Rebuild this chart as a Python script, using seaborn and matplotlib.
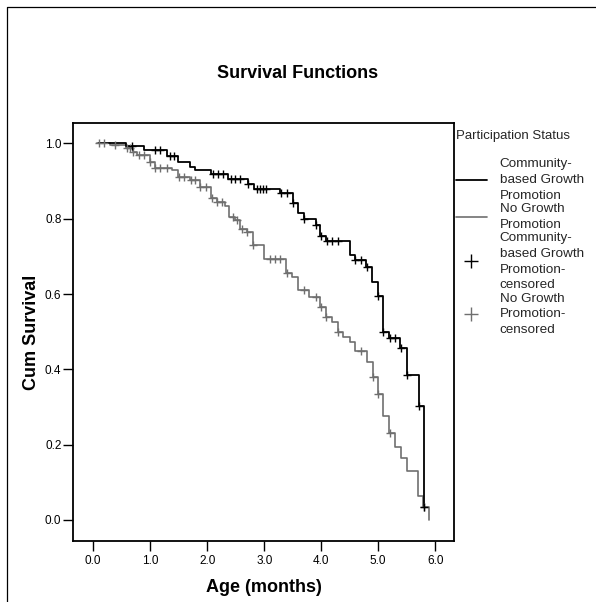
import numpy as np
import pandas as pd
import matplotlib
matplotlib.use("Agg")
import matplotlib.pyplot as plt
import seaborn as sns
from matplotlib.lines import Line2D

# ---------------- data ----------------
cbgp_event_times = [0.10, 0.58, 0.89, 1.30, 1.48, 1.69, 1.79, 2.06, 2.37, 2.72,
                    2.82, 3.28, 3.50, 3.60, 3.69, 3.90, 3.98, 4.09, 4.50, 4.60,
                    4.79, 4.89, 4.99, 5.09, 5.19, 5.39, 5.50, 5.71, 5.80]
cbgp_survival = [1.000, 0.994, 0.982, 0.967, 0.950, 0.938, 0.929, 0.920, 0.906, 0.891,
                 0.879, 0.867, 0.842, 0.814, 0.799, 0.783, 0.754, 0.741, 0.705, 0.690,
                 0.671, 0.633, 0.595, 0.500, 0.482, 0.456, 0.385, 0.303, 0.035]
cbgp_censored = [0.68, 1.09, 1.18, 1.35, 1.42, 2.10, 2.19, 2.28, 2.41, 2.49, 2.58,
                 2.72, 2.87, 2.92, 2.98, 3.04, 3.30, 3.40, 3.50, 3.69, 3.90, 3.99,
                 4.10, 4.19, 4.29, 4.60, 4.70, 4.80, 4.99, 5.09, 5.20, 5.30, 5.40,
                 5.50, 5.71, 5.80]

ngp_event_times = [0.07, 0.30, 0.57, 0.69, 0.77, 0.99, 1.08, 1.38, 1.48, 1.69,
                   1.88, 2.06, 2.17, 2.31, 2.38, 2.49, 2.58, 2.70, 2.80, 3.00,
                   3.39, 3.49, 3.59, 3.79, 3.98, 4.09, 4.19, 4.29, 4.39, 4.50,
                   4.60, 4.80, 4.90, 4.99, 5.09, 5.19, 5.30, 5.40, 5.50, 5.70,
                   5.78, 5.90]
ngp_survival = [1.000, 0.996, 0.989, 0.978, 0.969, 0.951, 0.936, 0.929, 0.911, 0.903,
                0.885, 0.854, 0.845, 0.834, 0.805, 0.796, 0.774, 0.765, 0.730, 0.692,
                0.655, 0.645, 0.612, 0.593, 0.566, 0.540, 0.525, 0.500, 0.487, 0.473,
                0.449, 0.420, 0.380, 0.334, 0.275, 0.230, 0.195, 0.164, 0.131, 0.065,
                0.034, 0.000]
ngp_censored = [0.10, 0.19, 0.39, 0.60, 0.65, 0.69, 0.80, 0.89, 0.99, 1.09, 1.18,
                1.30, 1.50, 1.59, 1.71, 1.79, 1.88, 1.97, 2.08, 2.17, 2.26, 2.46,
                2.52, 2.61, 2.70, 2.80, 3.11, 3.19, 3.28, 3.40, 3.69, 3.90, 4.00,
                4.09, 4.29, 4.70, 4.90, 5.00, 5.20, 5.81]

legend_title = "Participation Status"
legend_labels = ["Community-\nbased Growth\nPromotion",
                 "No Growth\nPromotion",
                 "Community-\nbased Growth\nPromotion-\ncensored",
                 "No Growth\nPromotion-\ncensored"]
x_ticks = [0, 1, 2, 3, 4, 5, 6]
y_ticks = [0.0, 0.2, 0.4, 0.6, 0.8, 1.0]
title = "Survival Functions"
x_label = "Age (months)"
y_label = "Cum Survival"

# ---------------- styling ----------------
sns.set_theme(style="white")
plt.rcParams["font.family"] = ["Liberation Sans", "DejaVu Sans"]

BLACK = "#000000"
GRAY = "#6f6f6f"

W, H = 596, 602
fig = plt.figure(figsize=(W / 100, H / 100), dpi=100)
fig.patch.set_facecolor("white")
ax_l, ax_r, ax_t, ax_b = 73.3, 454.0, 122.7, 540.7
ax = fig.add_axes([ax_l / W, (H - ax_b) / H, (ax_r - ax_l) / W, (ax_b - ax_t) / H])


def censor_y(times, surv, cens):
    t = np.asarray(times)
    s = np.asarray(surv)
    idx = np.searchsorted(t, np.asarray(cens) + 1e-9, side="right") - 1
    return s[np.clip(idx, 0, len(s) - 1)]


df_cb = pd.DataFrame({"t": cbgp_event_times, "S": cbgp_survival})
df_ng = pd.DataFrame({"t": ngp_event_times, "S": ngp_survival})

sns.lineplot(data=df_ng, x="t", y="S", drawstyle="steps-post", color=GRAY,
             linewidth=1.2, estimator=None, sort=False, ax=ax, legend=False)
sns.lineplot(data=df_cb, x="t", y="S", drawstyle="steps-post", color=BLACK,
             linewidth=1.3, estimator=None, sort=False, ax=ax, legend=False)

sns.scatterplot(x=ngp_censored, y=censor_y(ngp_event_times, ngp_survival, ngp_censored),
                marker="+", s=26, color=GRAY, linewidth=1.0, ax=ax, legend=False, zorder=3)
sns.scatterplot(x=cbgp_censored, y=censor_y(cbgp_event_times, cbgp_survival, cbgp_censored),
                marker="+", s=26, color=BLACK, linewidth=1.0, ax=ax, legend=False, zorder=4)

ax.set_xlim(-0.35, 6.33)
ax.set_ylim(-0.055, 1.055)
ax.set_xticks(x_ticks)
ax.set_xticklabels([f"{v:.1f}" for v in x_ticks])
ax.set_yticks(y_ticks)
ax.set_yticklabels([f"{v:.1f}" for v in y_ticks])
ax.tick_params(axis="both", which="major", bottom=True, left=True, direction="out",
               length=7, width=1.0, color=BLACK, labelsize=8.5, labelcolor=BLACK)
ax.tick_params(axis="y", pad=1.5)
ax.tick_params(axis="x", pad=3)
for sp in ax.spines.values():
    sp.set_visible(True)
    sp.set_color(BLACK)
    sp.set_linewidth(1.3)

ax.set_xlabel(x_label, fontsize=13, fontweight="bold", color=BLACK)
ax.set_ylabel(y_label, fontsize=13, fontweight="bold", color=BLACK)
ax.xaxis.label.set_va("center")
ax.yaxis.label.set_va("center")
ax.xaxis.set_label_coords((264 - ax_l) / (ax_r - ax_l), (ax_b - 587) / (ax_b - ax_t))
ax.yaxis.set_label_coords((32 - ax_l) / (ax_r - ax_l), (ax_b - 332) / (ax_b - ax_t))

fig.text(298 / W, 1 - 73 / H, title, ha="center", va="center",
         fontsize=13, fontweight="bold", color=BLACK)

# outer chart frame (left and top edges visible)
fig.add_artist(Line2D([7 / W, 7 / W, 1.0], [0.0, 1 - 7 / H, 1 - 7 / H],
                      transform=fig.transFigure, color=BLACK, linewidth=0.9))

handles = [Line2D([], [], color=BLACK, linewidth=1.3),
           Line2D([], [], color=GRAY, linewidth=1.2),
           Line2D([], [], linestyle="none", marker="+", color=BLACK,
                  markersize=10, markeredgewidth=1.0),
           Line2D([], [], linestyle="none", marker="+", color=GRAY,
                  markersize=10, markeredgewidth=1.0)]
leg = ax.legend(handles, legend_labels, title=legend_title, loc="upper left",
                bbox_to_anchor=(456 / W, 1 - 130 / H), bbox_transform=fig.transFigure,
                frameon=False, fontsize=9.7, title_fontsize=9.5, alignment="left",
                borderpad=0, borderaxespad=0, handlelength=2.3, handletextpad=0.95,
                labelspacing=0.1)
for txt in leg.get_texts():
    txt.set_linespacing(1.42)
leg._legend_box.sep = 11.5

fig.savefig("out.png", dpi=100, facecolor="white")
